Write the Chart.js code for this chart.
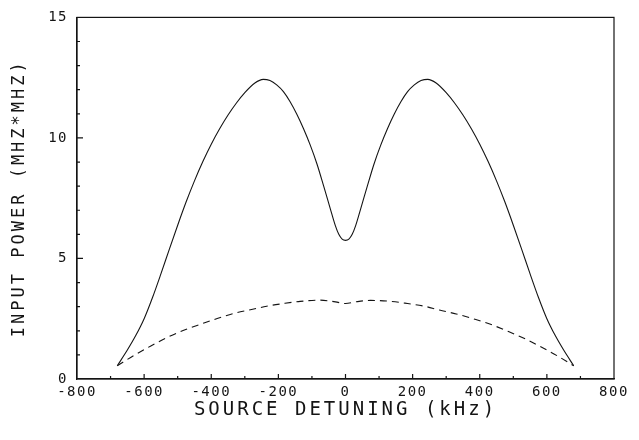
<!DOCTYPE html>
<html>
<head>
<meta charset="utf-8">
<script src="https://cdn.jsdelivr.net/npm/chart.js@4/dist/chart.umd.min.js"></script>
<style>
  html, body { margin: 0; padding: 0; background: #fff; }
  #wrap { width: 639px; height: 440px; }
</style>
</head>
<body>
<div id="wrap"><canvas id="powerChart" width="639" height="440"></canvas></div>
<script>
// source detuning (kHz) and input power (MHz*MHz)
const solidX = [-680, -650, -625, -600, -575, -550, -525, -500, -475, -450, -425, -400, -375, -350, -325, -300, -270, -245,
                -225, -205, -185, -165, -145, -125, -105, -85, -65, -45, -30, -20, -10, 0,
                10, 20, 30, 45, 65, 85, 105, 125, 145, 165, 185, 205, 225,
                245, 270, 300, 325, 350, 375, 400, 425, 450, 475, 500, 525, 550, 575, 600, 625, 650, 680];
const solidY = [0.55, 1.2, 1.8, 2.5, 3.38, 4.36, 5.38, 6.38, 7.34, 8.22, 9.02, 9.74, 10.38, 10.95, 11.45, 11.88, 12.28, 12.43,
                12.38, 12.2, 11.92, 11.5, 10.98, 10.38, 9.7, 8.92, 8.0, 7.05, 6.35, 6.0, 5.8, 5.75,
                5.8, 6.0, 6.35, 7.05, 8.0, 8.92, 9.7, 10.38, 10.98, 11.5, 11.92, 12.2, 12.38,
                12.43, 12.28, 11.88, 11.45, 10.95, 10.38, 9.74, 9.02, 8.22, 7.34, 6.38, 5.38, 4.36, 3.38, 2.5, 1.8, 1.2, 0.55];

const dashX = [-680, -630, -580, -530, -480, -430, -380, -330, -280, -235, -185, -135, -75, -30, 0,
               30, 75, 135, 185, 235, 280, 330, 380, 430, 480, 530, 580, 630, 680];
const dashY = [0.55, 0.98, 1.37, 1.73, 2.03, 2.28, 2.52, 2.73, 2.88, 3.02, 3.13, 3.22, 3.27, 3.2, 3.13,
               3.2, 3.26, 3.22, 3.13, 3.02, 2.86, 2.7, 2.5, 2.28, 2.0, 1.7, 1.35, 0.97, 0.55];

const xMin = -800, xMax = 800, xStep = 200, xMinorStep = 100;
const yMin = 0, yMax = 15, yStep = 5, yMinorStep = 1;

const ink = '#141414';
const font = "'DejaVu Sans Mono', monospace";

function toPoints(xs, ys) {
    return xs.map((x, i) => ({ x: x, y: ys[i] }));
}

// plotter style: wide lettering, box frame and inward tick marks
const framePlugin = {
    id: 'frame',
    beforeDraw(chart) {
        // axis titles are drawn in the first layer
        chart.ctx.letterSpacing = '3px';
    },
    beforeDatasetsDraw(chart) {
        chart.ctx.letterSpacing = '1.5px';
    },
    afterDraw(chart) {
        const ctx = chart.ctx;
        const a = chart.chartArea;
        const xs = chart.scales.x, ys = chart.scales.y;
        ctx.save();
        ctx.letterSpacing = '0px';
        ctx.strokeStyle = ink;
        ctx.lineWidth = 1.2;
        ctx.strokeRect(a.left, a.top, a.right - a.left, a.bottom - a.top);
        ctx.beginPath();
        for (let v = xMin + xMinorStep; v < xMax; v += xMinorStep) {
            const px = xs.getPixelForValue(v);
            const len = (v % xStep === 0) ? 5 : 3;
            ctx.moveTo(px, a.bottom);
            ctx.lineTo(px, a.bottom - len);
        }
        for (let v = yMin + yMinorStep; v < yMax; v += yMinorStep) {
            const py = ys.getPixelForValue(v);
            const len = (v % yStep === 0) ? 6 : 3;
            ctx.moveTo(a.left, py);
            ctx.lineTo(a.left + len, py);
        }
        ctx.stroke();
        ctx.restore();
    }
};

const ctx = document.getElementById('powerChart').getContext('2d');
const chart = new Chart(ctx, {
    type: 'line',
    data: {
        datasets: [{
            label: 'solid',
            data: toPoints(solidX, solidY),
            borderColor: ink,
            borderWidth: 1.1,
            pointRadius: 0,
            cubicInterpolationMode: 'monotone',
            fill: false
        }, {
            label: 'dashed',
            data: toPoints(dashX, dashY),
            borderColor: ink,
            borderWidth: 1.1,
            borderDash: [7, 5],
            pointRadius: 0,
            cubicInterpolationMode: 'monotone',
            fill: false
        }]
    },
    options: {
        responsive: false,
        animation: false,
        layout: { padding: { left: 9, top: 11, right: 25, bottom: 19 } },
        plugins: {
            legend: { display: false },
            tooltip: { enabled: false }
        },
        scales: {
            x: {
                type: 'linear',
                min: xMin,
                max: xMax,
                grid: { display: false, drawTicks: false },
                border: { display: true, color: ink, width: 1.2 },
                ticks: {
                    z: 1,
                    stepSize: xStep,
                    padding: 5,
                    color: ink,
                    font: { family: font, size: 14 }
                },
                title: {
                    display: true,
                    text: 'SOURCE DETUNING (kHz)',
                    color: ink,
                    padding: 0,
                    font: { family: font, size: 19 }
                },
                afterFit(scale) { scale.height = 42; }
            },
            y: {
                min: yMin,
                max: yMax,
                grid: { display: false, drawTicks: false },
                border: { display: true, color: ink, width: 1.2 },
                ticks: {
                    z: 1,
                    stepSize: yStep,
                    padding: 9,
                    color: ink,
                    font: { family: font, size: 14 }
                },
                title: {
                    display: true,
                    text: 'INPUT POWER (MHZ*MHZ)',
                    color: ink,
                    padding: 0,
                    font: { family: font, size: 17 }
                },
                afterFit(scale) { scale.width = 68; }
            }
        }
    },
    plugins: [framePlugin]
});
</script>
</body>
</html>
